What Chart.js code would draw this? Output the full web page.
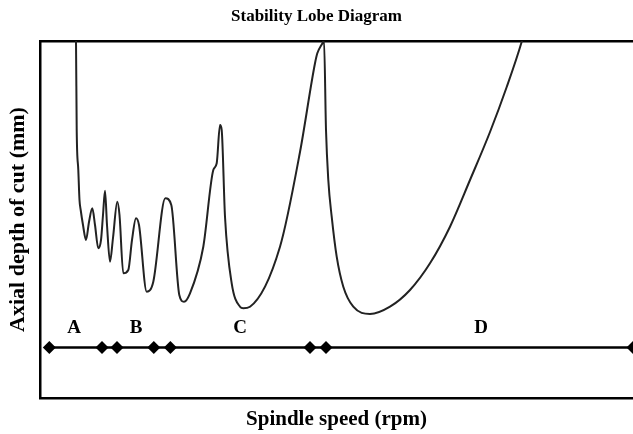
<!DOCTYPE html>
<html>
<head>
<meta charset="utf-8">
<script src="https://cdn.jsdelivr.net/npm/chart.js@4"></script>
<style>
html, body { margin: 0; padding: 0; background: #fff; }
#wrap { width: 633px; height: 434px; }
</style>
</head>
<body>
<div id="wrap"><canvas id="lobeChart"></canvas></div>
<script>
// values (no tick labels, so arbitrary units)
const lobeSpeed = [35.5, 36, 36.7, 38.3, 39.5, 40.7, 43, 46, 49, 52.3, 55, 58.3, 61, 63, 65, 67, 70, 73, 77.3, 79.5, 83.3, 88.3, 92, 96, 99, 106.7, 113.3, 125.3, 131.3, 139.3, 144, 150, 163.3, 173.3, 176.7, 180, 181.7, 185, 191.7, 200, 203.3, 210, 240, 260, 275, 277.3, 282.7, 284, 286, 288.3, 291.7, 296.7, 303.3, 313.3, 330, 350, 370, 390, 410, 430, 450, 466.7, 481.7, 484];
const lobeDepth = [368, 357, 268, 228, 198, 188, 173, 158, 176, 189.7, 173, 149.7, 158, 183, 207.3, 173, 136.3, 160, 196.3, 183, 124.7, 128, 158, 179.7, 173, 106.3, 116.3, 199.7, 193, 103, 96.3, 104.7, 151.3, 228, 234.7, 273, 268, 181.3, 114.7, 91.3, 89.7, 91.3, 151.3, 246, 334.7, 344.7, 355.3, 358, 268, 218, 181.3, 141.3, 111.3, 91.3, 84, 91.3, 108, 134.7, 171.3, 218, 266, 311, 356.3, 365];
const zoneSpeed = [9.3, 62, 77, 113.8, 130.4, 270, 286, 593];
const zoneDepth = 50.5;
const zoneLabels = ['A', 'B', 'C', 'D'];
const zoneLabelSpeed = [34, 96, 200, 441];
const zoneLabelDepth = 70;

const serif = "'Liberation Serif', 'DejaVu Serif', serif";

const zoneLetters = {
    id: 'zoneLetters',
    afterDatasetsDraw(chart) {
        const ctx = chart.ctx;
        const xs = chart.scales.x, ys = chart.scales.y;
        ctx.save();
        ctx.font = 'bold 19px ' + serif;
        ctx.fillStyle = '#000';
        ctx.textAlign = 'center';
        ctx.textBaseline = 'middle';
        zoneLabels.forEach((t, i) => {
            ctx.fillText(t, xs.getPixelForValue(zoneLabelSpeed[i]), ys.getPixelForValue(zoneLabelDepth));
        });
        ctx.restore();
    }
};

const lobectx = document.getElementById('lobeChart').getContext('2d');
const lobeChart = new Chart(lobectx, {
    type: 'line',
    data: {
        datasets: [{
            label: 'Stability lobes',
            data: lobeSpeed.map((s, i) => ({x: s, y: lobeDepth[i]})),
            borderColor: '#222',
            borderWidth: 2,
            pointRadius: 0,
            cubicInterpolationMode: 'monotone',
            fill: false
        }, {
            label: 'Zones',
            data: zoneSpeed.map(s => ({x: s, y: zoneDepth})),
            borderColor: '#000',
            backgroundColor: '#000',
            borderWidth: 2.5,
            pointStyle: 'rectRot',
            pointRadius: 6.5,
            pointBorderWidth: 0,
            tension: 0
        }]
    },
    options: {
        responsive: true,
        maintainAspectRatio: false,
        animation: false,
        layout: { padding: 0, autoPadding: false },
        plugins: {
            legend: { display: false },
            tooltip: { enabled: false },
            title: {
                display: true,
                text: 'Stability Lobe Diagram',
                color: '#000',
                font: { family: serif, size: 17, weight: 'bold' },
                padding: { top: 6, bottom: 14.6 }
            }
        },
        scales: {
            x: {
                type: 'linear',
                min: 0,
                max: 593,
                ticks: { display: false },
                grid: { display: false },
                border: { display: true, color: '#000', width: 2.5 },
                title: {
                    display: true,
                    text: 'Spindle speed (rpm)',
                    color: '#000',
                    font: { family: serif, size: 21, weight: 'bold' },
                    padding: { top: 0, bottom: 2 }
                },
                afterFit(scale) { scale.height = 36; }
            },
            xTop: {
                type: 'linear',
                position: 'top',
                min: 0,
                max: 593,
                ticks: { display: false },
                grid: { display: false },
                border: { display: true, color: '#000', width: 2.5 },
                afterFit(scale) { scale.height = 0; }
            },
            y: {
                min: 0,
                max: 357,
                ticks: { display: false },
                grid: { display: false },
                border: { display: true, color: '#000', width: 2.5 },
                title: {
                    display: true,
                    text: 'Axial depth of cut (mm)',
                    color: '#000',
                    font: { family: serif, size: 22, weight: 'bold' },
                    padding: { top: 5, bottom: 0 }
                },
                afterFit(scale) { scale.width = 40; }
            }
        }
    },
    plugins: [zoneLetters]
});
</script>
</body>
</html>
